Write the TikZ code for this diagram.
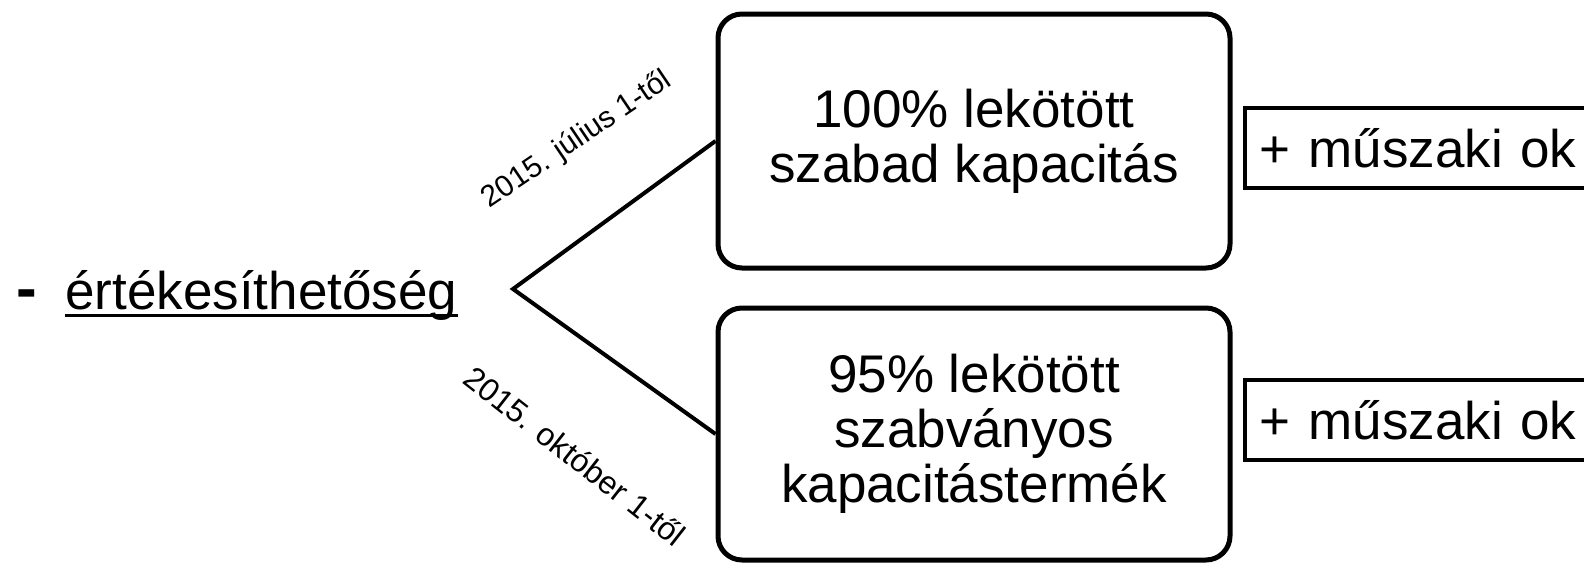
\documentclass[tikz,border=0pt]{standalone}
\usepackage{fontspec}
\setmainfont{Liberation Sans}
\usetikzlibrary{positioning}
\tikzset{
  doboz/.style={draw, line width=2.5pt, rounded corners=12pt, align=center, inner sep=0pt,
    minimum width=256pt, font=\fontsize{26.5}{27.5}\selectfont},
  keret/.style={draw, line width=1.8pt, anchor=west, align=left, text width=180pt,
    inner xsep=7.5pt, inner ysep=0pt, minimum height=40pt, font=\fontsize{26.5}{27.5}\selectfont},
  vonal/.style={line width=2pt},
  szoveg/.style={inner sep=0pt, anchor=base west, font=\fontsize{26.5}{27.5}\selectfont},
  cimke/.style={inner sep=0pt, font=\fontsize{15}{16}\selectfont},
}
\begin{document}
\begin{tikzpicture}[x=0.5pt,y=-0.5pt]
  \useasboundingbox (0,0) rectangle (1584,562);
  \clip (0,0) rectangle (1584,562);
  % bal oldal
  \node[szoveg, font=\fontsize{31}{32}\selectfont\bfseries] (kotojel) at (16,309) {-};
  \node[szoveg] (szo) at (65,309) {értékesíthetőség};
  \draw[line width=1.5pt] ([yshift=-3pt]szo.base west) -- ([yshift=-3pt]szo.base east);
  \coordinate (csucs) at (513,289);
  % dobozok
  \node[doboz, minimum height=127pt] (felso) at (974,141) {100\% lekötött\\szabad kapacitás};
  \node[doboz, minimum height=126pt] (also) at (974,434) {95\% lekötött\\szabványos\\kapacitástermék};
  \node[keret] (felsook) at (1243,148) {+ műszaki ok};
  \node[keret] (alsook) at (1243,420) {+ műszaki ok};
  % elagazas
  \draw[vonal] (felso.west) -- (csucs) -- (also.west);
  \node[cimke, rotate=34] (felsocimke) at (577,140) {2015. július 1-től};
  \node[cimke, rotate=-38, font=\fontsize{16}{17}\selectfont] (alsocimke) at (575,456) {2015. október 1-től};
\end{tikzpicture}
\end{document}
